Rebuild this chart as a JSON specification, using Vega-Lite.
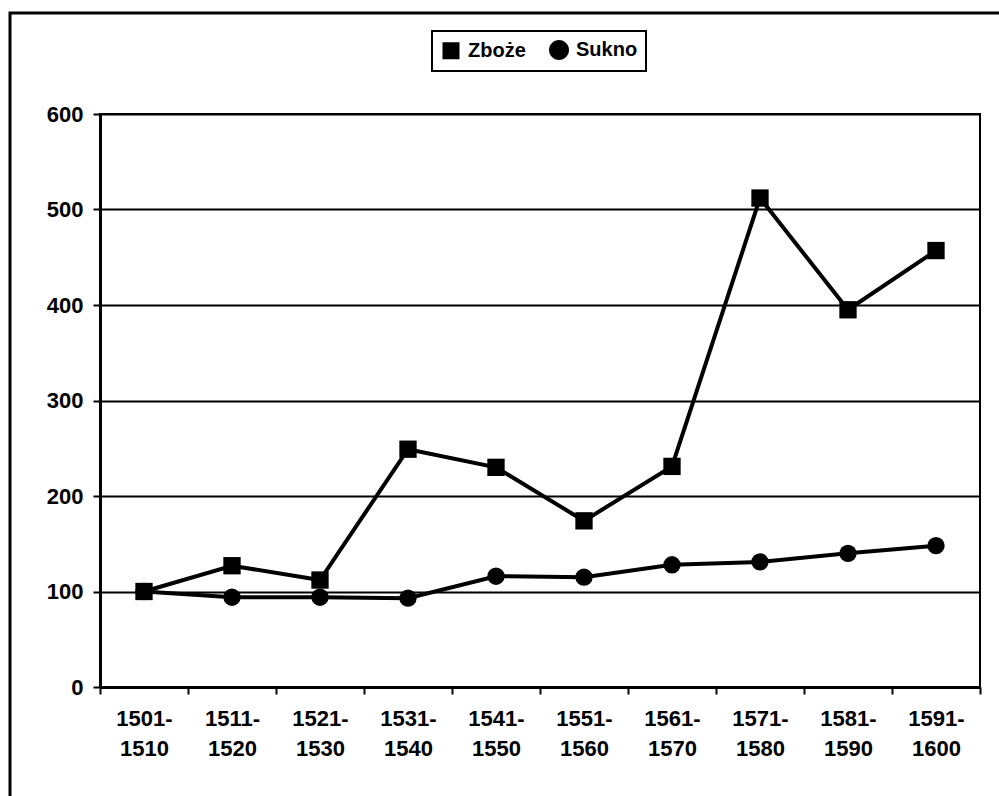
{
  "$schema": "https://vega.github.io/schema/vega-lite/v6.json",
  "width": 880,
  "height": 573,
  "autosize": {"type": "none"},
  "padding": {"left": 100, "top": 114, "right": 19, "bottom": 109},
  "background": "white",
  "config": {
    "font": "Liberation Sans",
    "view": {"stroke": "black", "strokeWidth": 2},
    "legend": {"strokeWidth": 2, "strokeColor": "black"},
    "axis": {
      "labelFont": "Liberation Sans",
      "labelFontWeight": "bold",
      "labelFontSize": 22,
      "labelColor": "black",
      "domainColor": "black",
      "tickColor": "black",
      "gridColor": "black",
      "title": null
    }
  },
  "data": {
    "values": [
      {"period": "1501- 1510", "series": "Zboże", "value": 100},
      {"period": "1511- 1520", "series": "Zboże", "value": 127},
      {"period": "1521- 1530", "series": "Zboże", "value": 112},
      {"period": "1531- 1540", "series": "Zboże", "value": 249},
      {"period": "1541- 1550", "series": "Zboże", "value": 230},
      {"period": "1551- 1560", "series": "Zboże", "value": 174},
      {"period": "1561- 1570", "series": "Zboże", "value": 231},
      {"period": "1571- 1580", "series": "Zboże", "value": 512},
      {"period": "1581- 1590", "series": "Zboże", "value": 395},
      {"period": "1591- 1600", "series": "Zboże", "value": 457},
      {"period": "1501- 1510", "series": "Sukno", "value": 100},
      {"period": "1511- 1520", "series": "Sukno", "value": 94},
      {"period": "1521- 1530", "series": "Sukno", "value": 94},
      {"period": "1531- 1540", "series": "Sukno", "value": 93},
      {"period": "1541- 1550", "series": "Sukno", "value": 116},
      {"period": "1551- 1560", "series": "Sukno", "value": 115},
      {"period": "1561- 1570", "series": "Sukno", "value": 128},
      {"period": "1571- 1580", "series": "Sukno", "value": 131},
      {"period": "1581- 1590", "series": "Sukno", "value": 140},
      {"period": "1591- 1600", "series": "Sukno", "value": 148}
    ]
  },
  "layer": [
    {
      "data": {"values": [{"frame": 1}]},
      "mark": {"type": "rect", "fill": null, "stroke": "black", "strokeWidth": 3},
      "encoding": {
        "x": {"value": -90},
        "x2": {"value": 920},
        "y": {"value": -101},
        "y2": {"value": 700}
      }
    },
    {
      "mark": {"type": "line", "color": "black", "strokeWidth": 4},
      "encoding": {
        "x": {
          "field": "period",
          "type": "nominal",
          "sort": null,
          "scale": {"type": "band", "paddingInner": 0, "paddingOuter": 0},
          "axis": {
            "labelAngle": 0,
            "tickBand": "extent",
            "tickSize": 7,
            "tickWidth": 2,
            "domainWidth": 3,
            "labelPadding": 14,
            "labelBaseline": "top",
            "labelLineHeight": 30,
            "labelExpr": "split(datum.label, ' ')",
            "grid": false
          }
        },
        "y": {
          "field": "value",
          "type": "quantitative",
          "scale": {"domain": [0, 600], "nice": false},
          "axis": {
            "values": [0, 100, 200, 300, 400, 500, 600],
            "tickSize": 7,
            "tickWidth": 2,
            "domainWidth": 3,
            "labelPadding": 10,
            "grid": true,
            "gridWidth": 2
          }
        },
        "detail": {"field": "series", "type": "nominal"}
      }
    },
    {
      "mark": {"type": "point", "filled": true, "color": "black", "opacity": 1, "size": 300},
      "encoding": {
        "x": {"field": "period", "type": "nominal", "sort": null},
        "y": {"field": "value", "type": "quantitative"},
        "shape": {
          "field": "series",
          "type": "nominal",
          "scale": {"domain": ["Zboże", "Sukno"], "range": ["square", "circle"]},
          "legend": null
        }
      }
    },
    {
      "transform": [{"filter": "false"}],
      "mark": {"type": "point", "filled": true, "color": "black", "opacity": 1},
      "encoding": {
        "x": {"field": "period", "type": "nominal", "sort": null},
        "y": {"field": "value", "type": "quantitative"},
        "shape": {
          "field": "series",
          "type": "nominal",
          "scale": {
            "domain": ["Zboże", "Sukno"],
            "range": [
              "M-0.85,-0.85H0.85V0.85H-0.85Z",
              "M1,0A1,1,0,1,1,-1,0A1,1,0,1,1,1,0Z"
            ]
          },
          "legend": {
            "title": null,
            "orient": "none",
            "direction": "horizontal",
            "legendX": 332,
            "legendY": -83,
            "padding": 8,
            "fillColor": "white",
            "symbolSize": 400,
            "symbolFillColor": "black",
            "symbolOpacity": 1,
            "labelFont": "Liberation Sans",
            "labelFontWeight": "bold",
            "labelFontSize": 20,
            "labelColor": "black",
            "labelOffset": 6,
            "columnPadding": 20
          }
        }
      }
    }
  ],
  "resolve": {"scale": {"shape": "independent"}}
}
